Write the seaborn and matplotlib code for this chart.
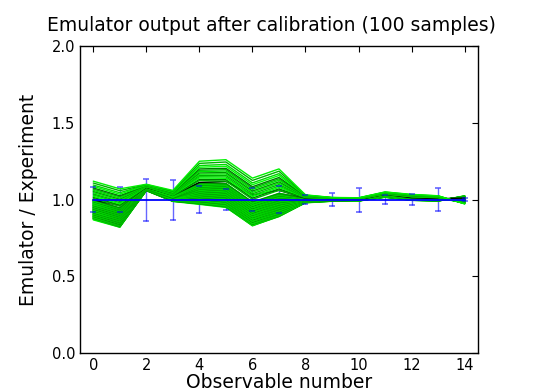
import numpy as np
import pandas as pd
import matplotlib
matplotlib.use("Agg")
import matplotlib.pyplot as plt
import seaborn as sns

# --- Data ---

observables = list(range(15))
exp_ratio = [1.0, 1.0, 1.0, 1.0, 1.0, 1.0, 1.0, 1.0, 1.0, 1.0, 1.0, 1.0, 1.0, 1.0, 1.0]
exp_error = [0.083, 0.083, 0.137, 0.130, 0.090, 0.068, 0.076, 0.089,
             0.030, 0.044, 0.078, 0.030, 0.037, 0.076, 0.008]

# emulator / experiment for the 100 posterior samples, one list per observable
obs0 = [0.868, 0.872, 0.875, 0.873, 0.878, 0.877, 0.881, 0.880, 0.884, 0.882,
        0.887, 0.886, 0.890, 0.889, 0.893, 0.891, 0.896, 0.894, 0.898, 0.899,
        0.902, 0.900, 0.905, 0.903, 0.908, 0.906, 0.911, 0.910, 0.913, 0.915,
        0.917, 0.916, 0.920, 0.918, 0.923, 0.921, 0.926, 0.924, 0.929, 0.928,
        0.931, 0.933, 0.935, 0.934, 0.938, 0.937, 0.941, 0.939, 0.944, 0.943,
        0.946, 0.948, 0.950, 0.949, 0.953, 0.951, 0.956, 0.955, 0.959, 0.958,
        0.961, 0.963, 0.965, 0.964, 0.968, 0.966, 0.971, 0.969, 0.974, 0.973,
        0.976, 0.978, 0.980, 0.979, 0.983, 0.981, 0.986, 0.985, 0.989, 0.988,
        0.991, 0.993, 0.995, 0.994, 0.997, 1.000,
        1.008, 1.015, 1.022, 1.030, 1.037, 1.045, 1.053, 1.060, 1.068, 1.076,
        1.086, 1.095, 1.108, 1.120]
obs1 = [0.820, 0.821, 0.823, 0.826, 0.825, 0.829, 0.828, 0.831, 0.833, 0.832,
        0.835, 0.838, 0.837, 0.840, 0.842, 0.841, 0.845, 0.846, 0.847, 0.850,
        0.849, 0.852, 0.854, 0.853, 0.856, 0.858, 0.857, 0.861, 0.862, 0.863,
        0.866, 0.865, 0.868, 0.870, 0.869, 0.873, 0.874, 0.875, 0.878, 0.877,
        0.880, 0.882, 0.881, 0.885, 0.886, 0.887, 0.890, 0.889, 0.892, 0.894,
        0.893, 0.897, 0.898, 0.899, 0.902, 0.901, 0.904, 0.906, 0.905, 0.909,
        0.910, 0.911, 0.914, 0.913, 0.916, 0.918, 0.917, 0.921, 0.922, 0.923,
        0.926, 0.925, 0.928, 0.930, 0.929, 0.933, 0.934, 0.935, 0.938, 0.937,
        0.940, 0.942, 0.941, 0.945, 0.946, 0.960,
        0.958, 0.965, 0.972, 0.980, 0.988, 0.995, 1.003, 1.010, 1.018, 1.025,
        1.035, 1.045, 1.058, 1.070]
obs2 = [1.058, 1.062, 1.060, 1.063, 1.059, 1.061, 1.064, 1.060, 1.062, 1.065,
        1.061, 1.063, 1.066, 1.062, 1.064, 1.061, 1.065, 1.067, 1.063, 1.066,
        1.064, 1.068, 1.065, 1.063, 1.067, 1.069, 1.066, 1.064, 1.068, 1.070,
        1.067, 1.065, 1.069, 1.071, 1.068, 1.066, 1.070, 1.072, 1.069, 1.067,
        1.071, 1.073, 1.070, 1.068, 1.072, 1.074, 1.071, 1.069, 1.073, 1.075,
        1.072, 1.070, 1.074, 1.076, 1.073, 1.071, 1.075, 1.077, 1.074, 1.072,
        1.076, 1.078, 1.075, 1.073, 1.077, 1.079, 1.076, 1.074, 1.078, 1.080,
        1.077, 1.075, 1.079, 1.081, 1.078, 1.076, 1.080, 1.082, 1.079, 1.077,
        1.081, 1.083, 1.080, 1.078, 1.082, 1.080,
        1.083, 1.084, 1.085, 1.086, 1.087, 1.088, 1.089, 1.090, 1.091, 1.093,
        1.094, 1.096, 1.098, 1.100]
obs3 = [0.988, 0.991, 0.990, 0.993, 0.989, 0.992, 0.994, 0.991, 0.993, 0.995,
        0.992, 0.994, 0.996, 0.993, 0.997, 0.995, 0.998, 0.996, 0.994, 0.999,
        0.997, 1.000, 0.998, 0.996, 1.001, 0.999, 1.002, 1.000, 0.998, 1.003,
        1.001, 1.004, 1.002, 1.000, 1.005, 1.003, 1.006, 1.004, 1.002, 1.007,
        1.005, 1.008, 1.006, 1.004, 1.009, 1.007, 1.010, 1.008, 1.006, 1.011,
        1.009, 1.012, 1.010, 1.008, 1.013, 1.011, 1.014, 1.012, 1.010, 1.015,
        1.013, 1.016, 1.014, 1.012, 1.017, 1.015, 1.018, 1.016, 1.014, 1.019,
        1.017, 1.020, 1.018, 1.016, 1.021, 1.019, 1.022, 1.020, 1.018, 1.023,
        1.021, 1.024, 1.022, 1.020, 1.025, 1.030,
        1.027, 1.029, 1.031, 1.033, 1.035, 1.037, 1.039, 1.041, 1.043, 1.045,
        1.048, 1.051, 1.055, 1.060]
obs4 = [0.969, 0.973, 0.972, 0.976, 0.975, 0.979, 0.978, 0.983, 0.982, 0.986,
        0.985, 0.989, 0.988, 0.993, 0.992, 0.996, 0.995, 1.000, 0.999, 1.003,
        1.002, 1.006, 1.005, 1.010, 1.009, 1.013, 1.012, 1.016, 1.015, 1.020,
        1.019, 1.023, 1.022, 1.026, 1.025, 1.030, 1.029, 1.033, 1.032, 1.037,
        1.036, 1.040, 1.039, 1.043, 1.042, 1.047, 1.046, 1.050, 1.049, 1.053,
        1.052, 1.057, 1.056, 1.060, 1.059, 1.063, 1.062, 1.067, 1.066, 1.070,
        1.069, 1.073, 1.072, 1.077, 1.076, 1.080, 1.079, 1.084, 1.083, 1.087,
        1.086, 1.090, 1.089, 1.094, 1.093, 1.097, 1.096, 1.100, 1.099, 1.104,
        1.103, 1.107, 1.106, 1.110, 1.109, 1.112,
        1.124, 1.132, 1.141, 1.149, 1.158, 1.166, 1.174, 1.183, 1.191, 1.200,
        1.211, 1.222, 1.236, 1.250]
obs5 = [0.949, 0.953, 0.952, 0.957, 0.956, 0.960, 0.959, 0.964, 0.963, 0.968,
        0.967, 0.971, 0.970, 0.975, 0.974, 0.979, 0.978, 0.983, 0.982, 0.986,
        0.985, 0.990, 0.989, 0.994, 0.993, 0.998, 0.997, 1.001, 1.000, 1.005,
        1.004, 1.009, 1.008, 1.012, 1.011, 1.016, 1.015, 1.020, 1.019, 1.024,
        1.023, 1.027, 1.026, 1.031, 1.030, 1.035, 1.034, 1.038, 1.037, 1.042,
        1.041, 1.046, 1.045, 1.050, 1.049, 1.053, 1.052, 1.057, 1.056, 1.061,
        1.060, 1.064, 1.063, 1.068, 1.067, 1.072, 1.071, 1.076, 1.075, 1.079,
        1.078, 1.083, 1.082, 1.087, 1.086, 1.090, 1.089, 1.094, 1.093, 1.098,
        1.097, 1.102, 1.101, 1.105, 1.104, 1.118,
        1.121, 1.130, 1.139, 1.148, 1.158, 1.167, 1.176, 1.186, 1.195, 1.204,
        1.217, 1.229, 1.245, 1.260]
obs6 = [0.831, 0.829, 0.834, 0.833, 0.837, 0.836, 0.841, 0.840, 0.844, 0.843,
        0.848, 0.847, 0.852, 0.851, 0.855, 0.854, 0.859, 0.858, 0.863, 0.862,
        0.866, 0.865, 0.870, 0.869, 0.874, 0.873, 0.877, 0.876, 0.881, 0.880,
        0.885, 0.884, 0.888, 0.887, 0.892, 0.891, 0.896, 0.895, 0.900, 0.899,
        0.903, 0.902, 0.907, 0.906, 0.911, 0.910, 0.914, 0.913, 0.918, 0.917,
        0.922, 0.921, 0.926, 0.925, 0.929, 0.928, 0.933, 0.932, 0.937, 0.936,
        0.940, 0.939, 0.944, 0.943, 0.948, 0.947, 0.952, 0.951, 0.955, 0.954,
        0.959, 0.958, 0.963, 0.962, 0.966, 0.965, 0.970, 0.969, 0.974, 0.973,
        0.977, 0.976, 0.981, 0.980, 0.985, 1.030,
        1.001, 1.010, 1.019, 1.028, 1.038, 1.047, 1.056, 1.066, 1.075, 1.084,
        1.097, 1.109, 1.125, 1.140]
obs7 = [0.889, 0.892, 0.891, 0.895, 0.894, 0.898, 0.897, 0.902, 0.901, 0.905,
        0.904, 0.909, 0.908, 0.913, 0.912, 0.916, 0.915, 0.920, 0.919, 0.924,
        0.923, 0.927, 0.926, 0.931, 0.930, 0.935, 0.934, 0.938, 0.937, 0.942,
        0.941, 0.946, 0.945, 0.949, 0.948, 0.953, 0.952, 0.957, 0.956, 0.960,
        0.959, 0.964, 0.963, 0.968, 0.967, 0.971, 0.970, 0.975, 0.974, 0.979,
        0.978, 0.982, 0.981, 0.986, 0.985, 0.990, 0.989, 0.993, 0.992, 0.997,
        0.996, 1.001, 1.000, 1.004, 1.003, 1.008, 1.007, 1.012, 1.011, 1.015,
        1.014, 1.019, 1.018, 1.023, 1.022, 1.026, 1.025, 1.030, 1.029, 1.034,
        1.033, 1.037, 1.036, 1.041, 1.040, 1.060,
        1.061, 1.070, 1.079, 1.088, 1.098, 1.107, 1.116, 1.126, 1.135, 1.144,
        1.157, 1.169, 1.185, 1.200]
obs8 = [0.979, 0.982, 0.980, 0.983, 0.981, 0.984, 0.982, 0.985, 0.983, 0.986,
        0.984, 0.987, 0.985, 0.988, 0.986, 0.989, 0.987, 0.990, 0.988, 0.991,
        0.989, 0.992, 0.990, 0.993, 0.991, 0.994, 0.992, 0.995, 0.993, 0.996,
        0.994, 0.997, 0.995, 0.998, 0.996, 0.999, 0.997, 1.000, 0.998, 1.001,
        0.999, 1.002, 1.000, 1.003, 1.001, 1.004, 1.002, 1.005, 1.003, 1.006,
        1.001, 1.004, 1.002, 1.005, 1.003, 1.006, 1.004, 1.007, 1.005, 1.008,
        1.003, 1.006, 1.004, 1.007, 1.005, 1.008, 1.006, 1.009, 1.007, 1.010,
        1.005, 1.008, 1.006, 1.009, 1.007, 1.010, 1.008, 1.011, 1.009, 1.012,
        1.007, 1.010, 1.008, 1.011, 1.009, 1.010,
        1.012, 1.013, 1.015, 1.016, 1.017, 1.019, 1.020, 1.021, 1.023, 1.024,
        1.026, 1.027, 1.029, 1.031]
obs9 = [0.989, 0.991, 0.990, 0.992, 0.990, 0.993, 0.991, 0.992, 0.994, 0.991,
        0.993, 0.995, 0.992, 0.994, 0.996, 0.993, 0.995, 0.994, 0.996, 0.997,
        0.994, 0.996, 0.998, 0.995, 0.997, 0.996, 0.998, 0.999, 0.996, 0.998,
        0.997, 0.999, 1.000, 0.997, 0.999, 0.998, 1.000, 1.001, 0.998, 1.000,
        0.999, 1.001, 1.002, 0.999, 1.001, 1.000, 1.002, 1.003, 1.000, 1.002,
        1.001, 1.003, 1.002, 1.004, 1.001, 1.003, 1.002, 1.004, 1.003, 1.005,
        1.002, 1.004, 1.003, 1.005, 1.004, 1.006, 1.003, 1.005, 1.004, 1.006,
        1.005, 1.007, 1.004, 1.006, 1.005, 1.007, 1.006, 1.008, 1.005, 1.007,
        1.006, 1.008, 1.007, 1.009, 1.006, 1.004,
        1.007, 1.008, 1.008, 1.009, 1.009, 1.010, 1.010, 1.011, 1.011, 1.012,
        1.012, 1.013, 1.013, 1.014]
obs10 = [0.992, 0.990, 0.993, 0.991, 0.994, 0.992, 0.993, 0.995, 0.991, 0.994,
         0.992, 0.995, 0.993, 0.996, 0.994, 0.992, 0.995, 0.993, 0.996, 0.994,
         0.997, 0.995, 0.993, 0.996, 0.994, 0.997, 0.995, 0.998, 0.996, 0.994,
         0.997, 0.995, 0.998, 0.996, 0.999, 0.997, 0.995, 0.998, 0.996, 0.999,
         0.997, 1.000, 0.998, 0.996, 0.999, 0.997, 1.000, 0.998, 1.001, 0.999,
         0.997, 1.000, 0.998, 1.001, 0.999, 1.002, 1.000, 0.998, 1.001, 0.999,
         1.002, 1.000, 1.003, 1.001, 0.999, 1.002, 1.000, 1.003, 1.001, 1.004,
         1.002, 1.000, 1.003, 1.001, 1.004, 1.002, 1.005, 1.003, 1.001, 1.004,
         1.002, 1.005, 1.003, 1.006, 1.004, 1.001,
         1.004, 1.005, 1.005, 1.006, 1.006, 1.007, 1.007, 1.008, 1.008, 1.009,
         1.009, 1.010, 1.011, 1.012]
obs11 = [1.016, 1.018, 1.015, 1.019, 1.017, 1.020, 1.016, 1.019, 1.021, 1.018,
         1.020, 1.017, 1.021, 1.019, 1.022, 1.018, 1.021, 1.023, 1.020, 1.022,
         1.019, 1.023, 1.021, 1.024, 1.020, 1.023, 1.025, 1.022, 1.024, 1.021,
         1.025, 1.023, 1.026, 1.022, 1.025, 1.027, 1.024, 1.026, 1.023, 1.027,
         1.025, 1.028, 1.024, 1.027, 1.029, 1.026, 1.028, 1.025, 1.029, 1.027,
         1.030, 1.026, 1.029, 1.031, 1.028, 1.030, 1.027, 1.031, 1.029, 1.032,
         1.028, 1.031, 1.033, 1.030, 1.032, 1.029, 1.033, 1.031, 1.034, 1.030,
         1.033, 1.035, 1.032, 1.034, 1.031, 1.035, 1.033, 1.036, 1.032, 1.035,
         1.037, 1.034, 1.036, 1.033, 1.037, 1.035,
         1.036, 1.037, 1.038, 1.039, 1.040, 1.041, 1.042, 1.043, 1.044, 1.045,
         1.046, 1.047, 1.049, 1.050]
obs12 = [0.996, 0.998, 0.995, 0.999, 0.997, 1.000, 0.996, 0.999, 1.001, 0.998,
         1.000, 0.997, 1.001, 0.999, 1.002, 0.998, 1.001, 1.003, 1.000, 1.002,
         0.999, 1.003, 1.001, 1.004, 1.000, 1.003, 1.005, 1.002, 1.004, 1.001,
         1.005, 1.003, 1.006, 1.002, 1.005, 1.007, 1.004, 1.006, 1.003, 1.007,
         1.005, 1.008, 1.004, 1.007, 1.009, 1.006, 1.008, 1.005, 1.009, 1.007,
         1.010, 1.006, 1.009, 1.011, 1.008, 1.010, 1.007, 1.011, 1.009, 1.012,
         1.008, 1.011, 1.013, 1.010, 1.012, 1.009, 1.013, 1.011, 1.014, 1.010,
         1.013, 1.015, 1.012, 1.014, 1.011, 1.015, 1.013, 1.016, 1.012, 1.015,
         1.017, 1.014, 1.016, 1.013, 1.017, 1.012,
         1.018, 1.019, 1.020, 1.021, 1.022, 1.023, 1.024, 1.025, 1.026, 1.027,
         1.029, 1.030, 1.032, 1.034]
obs13 = [0.991, 0.993, 0.990, 0.994, 0.992, 0.995, 0.991, 0.994, 0.996, 0.993,
         0.995, 0.992, 0.996, 0.994, 0.997, 0.993, 0.996, 0.998, 0.995, 0.997,
         0.994, 0.998, 0.996, 0.999, 0.995, 0.998, 1.000, 0.997, 0.999, 0.996,
         1.000, 0.998, 1.001, 0.997, 1.000, 1.002, 0.999, 1.001, 0.998, 1.002,
         1.000, 1.003, 0.999, 1.002, 1.004, 1.001, 1.003, 1.000, 1.004, 1.002,
         1.005, 1.001, 1.004, 1.006, 1.003, 1.005, 1.002, 1.006, 1.004, 1.007,
         1.003, 1.006, 1.008, 1.005, 1.007, 1.004, 1.008, 1.006, 1.009, 1.005,
         1.008, 1.010, 1.007, 1.009, 1.006, 1.010, 1.008, 1.011, 1.007, 1.010,
         1.012, 1.009, 1.011, 1.008, 1.012, 1.006,
         1.012, 1.013, 1.014, 1.015, 1.016, 1.017, 1.018, 1.019, 1.020, 1.021,
         1.022, 1.023, 1.024, 1.025]
obs14 = [1.025, 1.022, 1.024, 1.021, 1.023, 1.020, 1.022, 1.019, 1.021, 1.018,
         1.020, 1.017, 1.019, 1.016, 1.018, 1.015, 1.017, 1.014, 1.016, 1.013,
         1.015, 1.012, 1.014, 1.011, 1.013, 1.010, 1.012, 1.009, 1.011, 1.008,
         1.010, 1.007, 1.009, 1.006, 1.008, 1.005, 1.007, 1.004, 1.006, 1.003,
         1.005, 1.002, 1.004, 1.001, 1.003, 1.000, 1.002, 0.999, 1.001, 0.998,
         1.000, 0.997, 0.999, 0.996, 0.998, 0.995, 0.997, 0.994, 0.996, 0.993,
         0.995, 0.992, 0.994, 0.991, 0.993, 0.990, 0.992, 0.989, 0.991, 0.988,
         0.990, 0.987, 0.989, 0.986, 0.988, 0.985, 0.987, 0.984, 0.986, 0.983,
         0.985, 0.982, 0.984, 0.981, 0.983, 1.010,
         0.982, 0.981, 0.980, 0.979, 0.978, 0.978, 0.977, 0.976, 0.976, 0.975,
         0.974, 0.974, 0.973, 0.972]

samples = [obs0, obs1, obs2, obs3, obs4, obs5, obs6, obs7,
           obs8, obs9, obs10, obs11, obs12, obs13, obs14]
n_samples = len(obs0)

# long-form table for seaborn
labels = [f"s{i:03d}" for i in range(n_samples)]
df = pd.DataFrame({
    "sample": labels * len(observables),
    "observable": np.repeat(observables, n_samples),
    "ratio": np.concatenate(samples),
})

# line colours: shades of green, one sample drawn in black
shades = ["#00ff00", "#00d400", "#00b000", "#00f000", "#009400",
          "#00e400", "#00c000", "#007a00"]
palette = {lab: shades[i % len(shades)] for i, lab in enumerate(labels)}
palette[labels[85]] = "#000000"

# --- Plot ---

sns.set_style("white")
plt.rcParams["font.family"] = ["DejaVu Sans"]
plt.rcParams["text.color"] = "black"
plt.rcParams["axes.labelcolor"] = "black"

fig = plt.figure(figsize=(5.37, 3.91), dpi=100)
ax = fig.add_axes([0.149, 0.097, 0.741, 0.785])

eb = ax.errorbar(observables, exp_ratio, yerr=exp_error, fmt="none",
                 ecolor="#0000ff", elinewidth=1.0, capsize=2.5, capthick=1.2,
                 alpha=0.6, zorder=1)

sns.lineplot(data=df, x="observable", y="ratio", hue="sample",
             palette=palette, legend=False, linewidth=1.0,
             estimator=None, ax=ax, zorder=2)

for cap in eb[1]:
    cap.set_zorder(4)
ax.plot(observables, exp_ratio, color="#0000ff", linewidth=1.3, zorder=5)

ax.set_xlim(-0.5, 14.5)
ax.set_ylim(0.0, 2.0)
ax.set_xticks(range(0, 15, 2))
ax.set_yticks([0.0, 0.5, 1.0, 1.5, 2.0])
ax.set_yticklabels(["0.0", "0.5", "1.0", "1.5", "2.0"])
ax.tick_params(direction="in", top=True, right=True, length=4, width=0.8,
               labelsize=10.5, colors="black")
for sp in ax.spines.values():
    sp.set_visible(True)
    sp.set_color("black")
    sp.set_linewidth(1.0)

ax.set_title("Emulator output after calibration (100 samples)",
             fontsize=13.5, color="black", x=0.48, pad=11)
ax.set_xlabel("Observable number", fontsize=13.5, labelpad=0)
ax.set_ylabel("Emulator / Experiment", fontsize=13.5, labelpad=10)

fig.savefig("out.png", dpi=100)
